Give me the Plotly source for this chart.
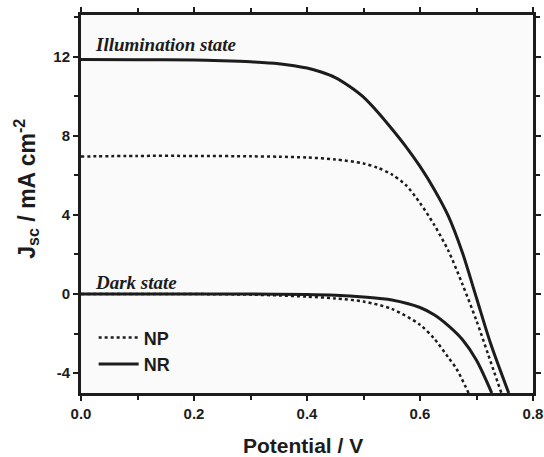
import plotly.graph_objects as go

# NR under illumination
v_nr_light = [0, 0.1, 0.2, 0.25, 0.3, 0.35, 0.4, 0.425, 0.45, 0.475, 0.5, 0.525, 0.55, 0.575,
              0.6, 0.625, 0.65, 0.675, 0.7, 0.725, 0.757]
j_nr_light = [11.85, 11.84, 11.82, 11.79, 11.74, 11.64, 11.42, 11.22, 10.94, 10.5, 9.95, 9.2, 8.35, 7.45,
              6.45, 5.3, 3.95, 2.1, -0.2, -2.5, -5.0]

# NP under illumination
v_np_light = [0, 0.1, 0.2, 0.3, 0.35, 0.4, 0.45, 0.5, 0.525, 0.55, 0.575, 0.6, 0.625, 0.65,
              0.675, 0.7, 0.72, 0.744]
j_np_light = [6.95, 6.98, 6.98, 6.96, 6.94, 6.9, 6.8, 6.6, 6.38, 6.05, 5.5, 4.6, 3.5, 2.2,
              0.5, -1.35, -3.0, -5.0]

# NR dark
v_nr_dark = [0, 0.1, 0.2, 0.3, 0.4, 0.45, 0.5, 0.55, 0.6, 0.625, 0.65, 0.675, 0.7, 0.727]
j_nr_dark = [0, 0, 0, 0, -0.02, -0.06, -0.15, -0.3, -0.68, -1.05, -1.6, -2.3, -3.35, -5.0]

# NP dark
v_np_dark = [0, 0.1, 0.2, 0.3, 0.35, 0.4, 0.45, 0.5, 0.55, 0.6, 0.625, 0.65, 0.665, 0.686]
j_np_dark = [0, 0, 0, -0.03, -0.07, -0.13, -0.22, -0.38, -0.75, -1.55, -2.25, -3.2, -3.8, -5.0]

x_ticks = [0.0, 0.2, 0.4, 0.6, 0.8]
x_tick_labels = ["0.0", "0.2", "0.4", "0.6", "0.8"]
y_ticks = [-4, 0, 4, 8, 12]
y_tick_labels = ["-4", "0", "4", "8", "12"]

ink = "#1c1c1c"
fig = go.Figure()
fig.add_trace(go.Scatter(x=v_np_light, y=j_np_light, mode="lines", name="NP",
                         line=dict(color=ink, width=2.5, dash="dot", shape="spline", smoothing=0.8),
                         legendrank=1))
fig.add_trace(go.Scatter(x=v_nr_light, y=j_nr_light, mode="lines", name="NR",
                         line=dict(color=ink, width=3, shape="spline", smoothing=0.8),
                         legendrank=2))
fig.add_trace(go.Scatter(x=v_np_dark, y=j_np_dark, mode="lines", name="NP dark",
                         line=dict(color=ink, width=2.5, dash="dot", shape="spline", smoothing=0.8),
                         showlegend=False))
fig.add_trace(go.Scatter(x=v_nr_dark, y=j_nr_dark, mode="lines", name="NR dark",
                         line=dict(color=ink, width=3, shape="spline", smoothing=0.8),
                         showlegend=False))

tick_font = dict(family="Liberation Sans", size=15, color=ink, weight="bold")
axis_common = dict(showline=True, linecolor=ink, linewidth=3, mirror="ticks",
                   ticks="outside", ticklen=5, tickwidth=2, tickcolor=ink,
                   showgrid=False, zeroline=False, automargin=False,
                   tickfont=tick_font)

fig.update_xaxes(range=[0, 0.8], tickvals=x_ticks, ticktext=x_tick_labels,
                 minor=dict(dtick=0.1, ticks="outside", ticklen=4, tickwidth=2, tickcolor=ink),
                 **axis_common)
fig.update_yaxes(range=[-5, 14.1], tickvals=y_ticks, ticktext=y_tick_labels,
                 minor=dict(dtick=2, tick0=0, ticks="outside", ticklen=4, tickwidth=2, tickcolor=ink),
                 **axis_common)

# axis titles
fig.add_annotation(x=0.491, y=-0.138, xref="paper", yref="paper", xanchor="center", yanchor="middle",
                   text="<b>Potential / V</b>", showarrow=False,
                   font=dict(family="Liberation Sans", size=21, color=ink))
fig.add_annotation(x=-0.122, y=0.54, xref="paper", yref="paper", xanchor="center", yanchor="middle",
                   text="<b>J<sub>sc</sub> / mA cm<sup>-2</sup></b>", showarrow=False, textangle=-90,
                   font=dict(family="Liberation Sans", size=23, color=ink))

fig.add_annotation(x=0.021, y=12.6, xref="x", yref="y", xanchor="left", yanchor="middle",
                   text="<b><i>Illumination state</i></b>", showarrow=False,
                   font=dict(family="Liberation Serif", size=19, color=ink))
fig.add_annotation(x=0.021, y=0.6, xref="x", yref="y", xanchor="left", yanchor="middle",
                   text="<b><i>Dark state</i></b>", showarrow=False,
                   font=dict(family="Liberation Serif", size=19, color=ink))

fig.update_layout(
    width=544, height=457,
    margin=dict(l=81, r=11, t=15, b=64),
    paper_bgcolor="#ffffff", plot_bgcolor="#fafafa",
    showlegend=True,
    legend=dict(x=0.028, y=0.195, xanchor="left", yanchor="top", bgcolor="rgba(0,0,0,0)",
                font=dict(family="Liberation Sans", size=18, color=ink, weight="bold"),
                tracegroupgap=0, itemwidth=40),
)

# remove the default page margin so the 544x457 figure fills the window exactly
fig.write_html("out.html",
               config={"displayModeBar": False},
               post_script="document.body.style.margin='0';document.body.style.overflow='hidden';")
